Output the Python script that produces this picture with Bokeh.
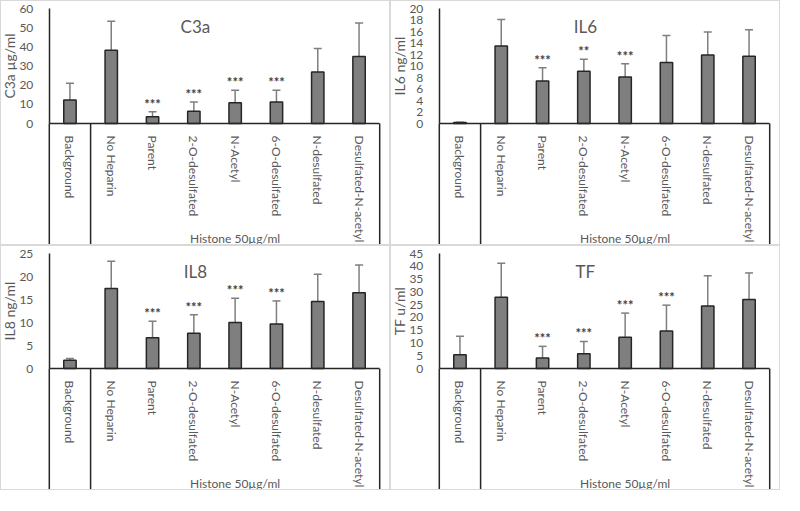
import math
from bokeh.plotting import figure
from bokeh.layouts import gridplot
from bokeh.models import (Range1d, FixedTicker, Whisker, TeeHead,
                          ColumnDataSource, Label)
from bokeh.core.properties import value
from bokeh.embed import file_html
from bokeh.resources import INLINE

categories = ["Background", "No Heparin", "Parent", "2-O-desulfated", "N-Acetyl",
              "6-O-desulfated", "N-desulfated", "Desulfated-N-acetyl"]
group_label = "Histone 50µg/ml"

c3a_values = [12.3, 38.2, 3.6, 6.5, 10.9, 11.2, 26.9, 35.0]
c3a_upper = [21.0, 53.4, 6.2, 11.2, 17.4, 17.4, 39.2, 52.4]
c3a_stars = ["", "", "***", "***", "***", "***", "", ""]
c3a_ticks = [0, 10, 20, 30, 40, 50, 60]

il6_values = [0.2, 13.5, 7.4, 9.1, 8.1, 10.6, 11.9, 11.7]
il6_upper = [0.25, 18.1, 9.7, 11.2, 10.4, 15.3, 15.9, 16.3]
il6_stars = ["", "", "***", "**", "***", "", "", ""]
il6_ticks = [0, 2, 4, 6, 8, 10, 12, 14, 16, 18, 20]

il8_values = [1.8, 17.4, 6.7, 7.7, 10.0, 9.7, 14.6, 16.5]
il8_upper = [2.2, 23.3, 10.3, 11.7, 15.3, 14.7, 20.5, 22.5]
il8_stars = ["", "", "***", "***", "***", "***", "", ""]
il8_ticks = [0, 5, 10, 15, 20, 25]

tf_values = [5.4, 27.9, 4.1, 5.8, 12.3, 14.7, 24.5, 27.0]
tf_upper = [12.6, 41.2, 8.7, 10.6, 21.7, 24.8, 36.3, 37.4]
tf_stars = ["", "", "***", "***", "***", "***", "", ""]
tf_ticks = [0, 5, 10, 15, 20, 25, 30, 35, 40, 45]

FONT = "Lato"
GRAY = "#595959"
DARK = "#262626"

W, H = 390, 245
TOP_PX = 7.0            # top of the value axis, from the panel top
ZERO_PX = 122.1         # zero line, from the panel top
AXIS_PX = 47.8          # y axis position from the left edge of a panel
CAT_PX = 41.3           # width of one category slot
X_START = -AXIS_PX / CAT_PX
X_END = (W - AXIS_PX) / CAT_PX

N = len(categories)
xpos = [i + 0.5 for i in range(N)]


def panel(title, ylabel, vals, upper, stars, ticks):
    ymax = ticks[-1]
    px = ymax / (ZERO_PX - TOP_PX)      # data units per pixel
    y_end = ymax + TOP_PX * px
    y_start = -(H - ZERO_PX) * px
    p = figure(width=W, height=H, x_range=Range1d(X_START, X_END),
               y_range=Range1d(y_start, y_end), output_backend="svg",
               toolbar_location=None, min_border_left=0, min_border_right=0,
               min_border_top=0, min_border_bottom=0)
    p.outline_line_color = None
    p.xgrid.visible = False
    p.ygrid.visible = False
    p.styles = {"border": "1px solid #d9d9d9"}

    src = ColumnDataSource(dict(x=xpos, v=vals, up=upper, st=stars))
    p.vbar(x="x", top="v", bottom=0, width=0.3, source=src, fill_color="#7f7f7f",
           line_color=DARK, line_width=1.5)
    w = Whisker(source=src, base="x", upper="up", lower="v", dimension="height",
                line_color="#7f7f7f", line_width=1.5,
                upper_head=TeeHead(size=8, line_color="#7f7f7f", line_width=1.5),
                lower_head=None)
    p.add_layout(w)
    p.text(x="x", y="up", text="st", source=src, text_align="center",
           text_baseline="bottom", text_font=value(FONT),
           text_font_size="13px", text_color="#404040", text_font_style="bold")

    # bracket lines below the category axis
    p.segment(x0=[0, 1, N], y0=[0, 0, 0], x1=[0, 1, N],
              y1=[y_start, y_start, y_start], line_color=DARK, line_width=1.5)
    p.text(x=[(1 + N) / 2], y=[y_start + 1 * px], text=[group_label],
           text_align="center", text_baseline="bottom", text_font=value(FONT),
           text_font_size="12px", text_color=GRAY)
    # panel title
    p.add_layout(Label(x=(199 - 49) / 42.4, y=y_end - 25 * px, text=title,
                       text_align="center", text_baseline="middle", text_font=FONT,
                       text_font_size="17px", text_color=GRAY))
    # y axis title, centred on the 0..max part of the axis
    p.text(x=[-(AXIS_PX - 8) / CAT_PX], y=[ymax / 2], text=[ylabel],
           angle=math.pi / 2, text_align="center", text_baseline="middle",
           text_font=value(FONT), text_font_size="14px", text_color=GRAY)

    ya = p.yaxis[0]
    ya.fixed_location = 0
    ya.ticker = FixedTicker(ticks=ticks)
    ya.bounds = (0, ymax)
    ya.major_label_text_font = FONT
    ya.major_label_text_font_size = "12px"
    ya.major_label_text_color = GRAY
    ya.major_label_standoff = 10
    ya.major_tick_line_color = None
    ya.minor_tick_line_color = None
    ya.axis_line_color = DARK
    ya.axis_line_width = 1.5

    xa = p.xaxis[0]
    xa.fixed_location = 0
    xa.bounds = (0, N)
    xa.ticker = FixedTicker(ticks=xpos)
    xa.major_label_overrides = {x: c for x, c in zip(xpos, categories)}
    xa.major_label_orientation = "vertical"
    xa.major_label_text_font = FONT
    xa.major_label_text_font_size = "12px"
    xa.major_label_text_color = GRAY
    xa.major_label_standoff = 6
    xa.major_tick_line_color = None
    xa.minor_tick_line_color = None
    xa.axis_line_color = DARK
    xa.axis_line_width = 1.5
    return p


p1 = panel("C3a", "C3a µg/ml", c3a_values, c3a_upper, c3a_stars, c3a_ticks)
p2 = panel("IL6", "IL6 ng/ml", il6_values, il6_upper, il6_stars, il6_ticks)
p3 = panel("IL8", "IL8 ng/ml", il8_values, il8_upper, il8_stars, il8_ticks)
p4 = panel("TF", "TF u/ml", tf_values, tf_upper, tf_stars, tf_ticks)

grid = gridplot([[p1, p2], [p3, p4]], toolbar_location=None)
open("out.html", "w").write(file_html(grid, INLINE))
